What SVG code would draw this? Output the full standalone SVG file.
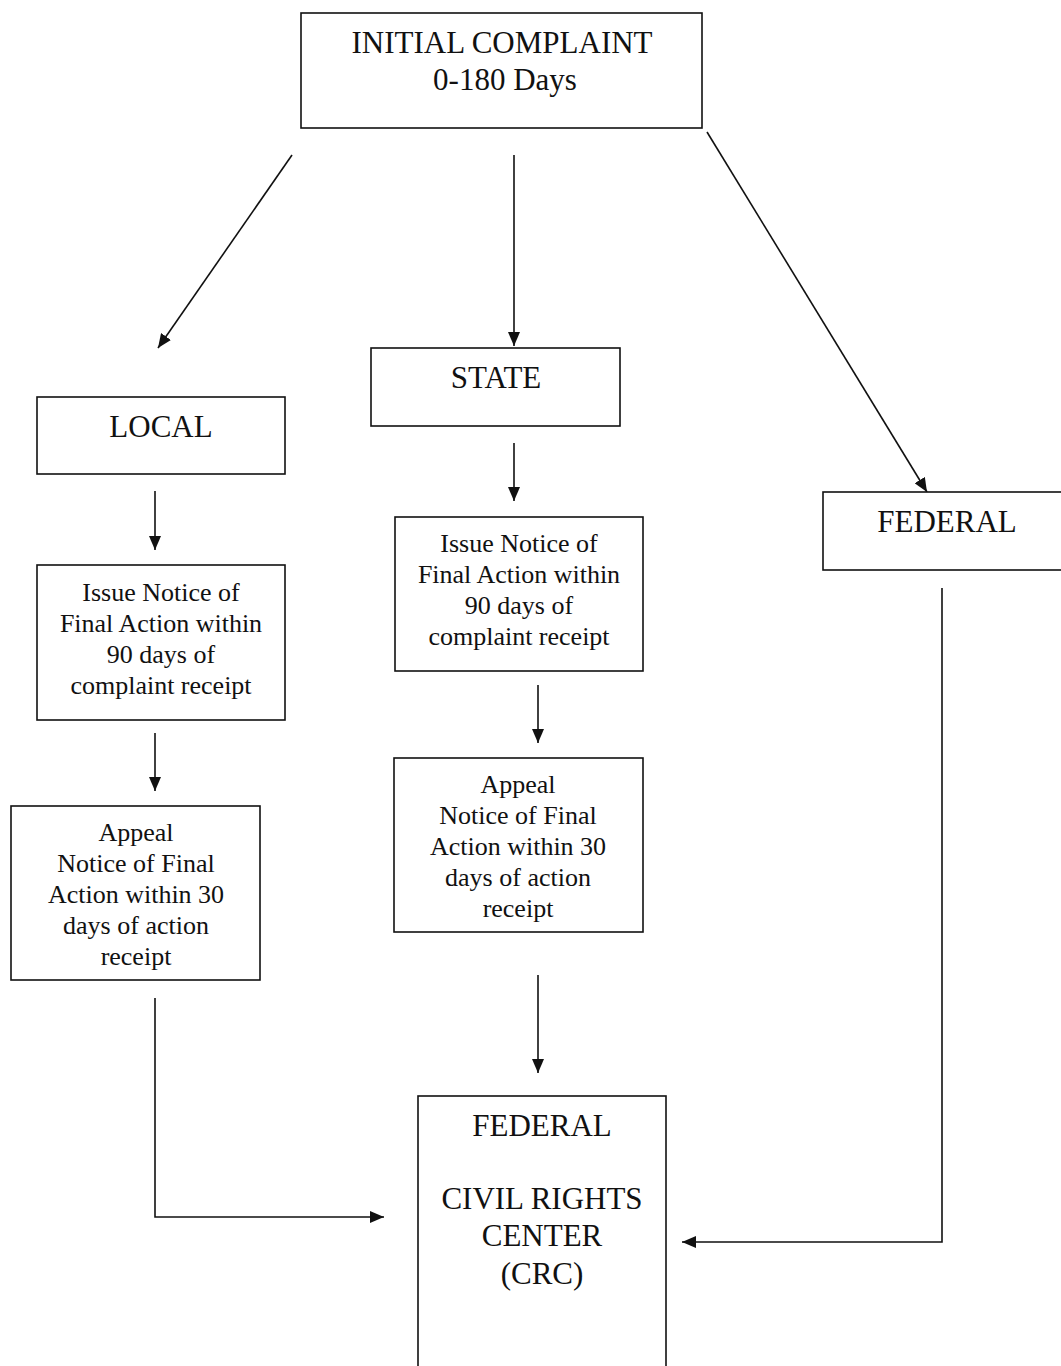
<svg xmlns="http://www.w3.org/2000/svg" width="1061" height="1366" viewBox="0 0 1061 1366">
<style>
.box{fill:#fff;stroke:#111;stroke-width:1.6}
.t{font-family:"Liberation Serif","Times New Roman",serif;fill:#111;text-anchor:middle}
.big{font-size:31px}
.sm{font-size:26px}
.c{fill:none;stroke:#111;stroke-width:1.6}
</style>
<defs>
<marker id="ah" viewBox="0 0 14 12" refX="14" refY="6" markerWidth="14" markerHeight="12" markerUnits="userSpaceOnUse" orient="auto">
<path d="M0,0 L14,6 L0,12 Z" fill="#111"/>
</marker>
</defs>
<rect width="1061" height="1366" fill="#fff"/>
<g id="connectors">
<line class="c" x1="292" y1="155" x2="158" y2="348" marker-end="url(#ah)"/>
<line class="c" x1="514" y1="155" x2="514" y2="346" marker-end="url(#ah)"/>
<line class="c" x1="707" y1="132" x2="927" y2="492" marker-end="url(#ah)"/>
<line class="c" x1="155" y1="491" x2="155" y2="550" marker-end="url(#ah)"/>
<line class="c" x1="155" y1="733" x2="155" y2="791" marker-end="url(#ah)"/>
<polyline class="c" points="155,998 155,1217 384,1217" marker-end="url(#ah)"/>
<line class="c" x1="514" y1="443" x2="514" y2="501" marker-end="url(#ah)"/>
<line class="c" x1="538" y1="685" x2="538" y2="743" marker-end="url(#ah)"/>
<line class="c" x1="538" y1="975" x2="538" y2="1073" marker-end="url(#ah)"/>
<polyline class="c" points="942,588 942,1242 682,1242" marker-end="url(#ah)"/>
</g>
<g id="initial">
<rect class="box" x="301" y="13" width="401" height="115"/>
<text class="t big" x="502" y="53">INITIAL COMPLAINT</text>
<text class="t big" x="505" y="90">0-180 Days</text>
</g>
<g id="local">
<rect class="box" x="37" y="397" width="248" height="77"/>
<text class="t big" x="161" y="437">LOCAL</text>
</g>
<g id="state">
<rect class="box" x="371" y="348" width="249" height="78"/>
<text class="t big" x="496" y="388">STATE</text>
</g>
<g id="federal">
<rect class="box" x="823" y="492" width="250" height="78"/>
<text class="t big" x="947" y="532">FEDERAL</text>
</g>
<g id="local-issue">
<rect class="box" x="37" y="565" width="248" height="155"/>
<text class="t sm" x="161" y="601">Issue Notice of</text>
<text class="t sm" x="161" y="632">Final Action within</text>
<text class="t sm" x="161" y="663">90 days of</text>
<text class="t sm" x="161" y="694">complaint receipt</text>
</g>
<g id="local-appeal">
<rect class="box" x="11" y="806" width="249" height="174"/>
<text class="t sm" x="136" y="841">Appeal</text>
<text class="t sm" x="136" y="872">Notice of Final</text>
<text class="t sm" x="136" y="903">Action within 30</text>
<text class="t sm" x="136" y="934">days of action</text>
<text class="t sm" x="136" y="965">receipt</text>
</g>
<g id="state-issue">
<rect class="box" x="395" y="517" width="248" height="154"/>
<text class="t sm" x="519" y="552">Issue Notice of</text>
<text class="t sm" x="519" y="583">Final Action within</text>
<text class="t sm" x="519" y="614">90 days of</text>
<text class="t sm" x="519" y="645">complaint receipt</text>
</g>
<g id="state-appeal">
<rect class="box" x="394" y="758" width="249" height="174"/>
<text class="t sm" x="518" y="793">Appeal</text>
<text class="t sm" x="518" y="824">Notice of Final</text>
<text class="t sm" x="518" y="855">Action within 30</text>
<text class="t sm" x="518" y="886">days of action</text>
<text class="t sm" x="518" y="917">receipt</text>
</g>
<g id="crc">
<rect class="box" x="418" y="1096" width="248" height="290"/>
<text class="t big" x="542" y="1136">FEDERAL</text>
<text class="t big" x="542" y="1209">CIVIL RIGHTS</text>
<text class="t big" x="542" y="1246">CENTER</text>
<text class="t big" x="542" y="1284">(CRC)</text>
</g>
</svg>
